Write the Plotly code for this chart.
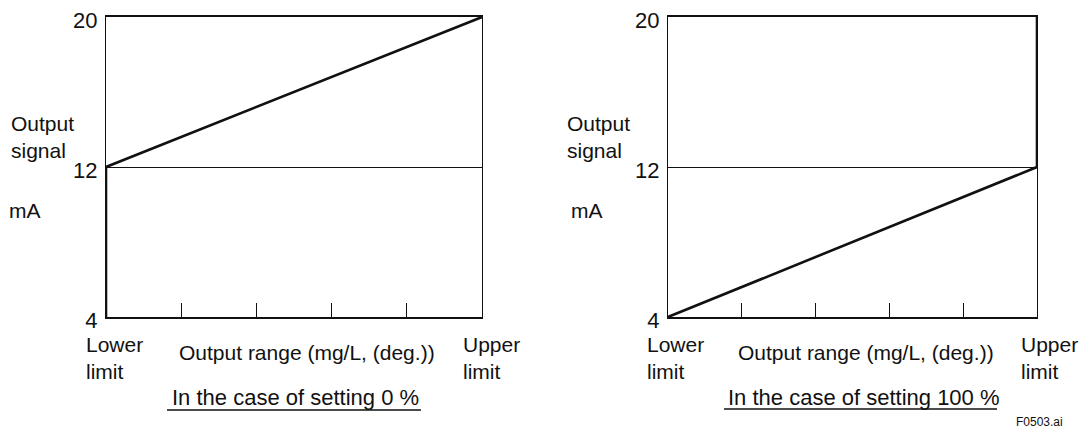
import plotly.graph_objects as go
from plotly.subplots import make_subplots

# 出力範囲（%）と出力信号（mA）
RANGE_PCT = [0, 100]
SIGNAL_RANGE = [4, 20]
SIGNAL_TICKS = [4, 12, 20]
SIGNAL_TICKTEXT = ["4", "12", "20"]
RANGE_TICKS = [20, 40, 60, 80]

# 設定 0 %：下限で 4→12 mA に跳び、上限で 20 mA
X_SET0 = [0, 0, 100]
Y_SET0 = [4, 12, 20]
# 設定 100 %：下限 4 mA から上限 12 mA、上限で 20 mA に跳ぶ
X_SET100 = [0, 100, 100]
Y_SET100 = [4, 12, 20]

CAPTIONS = ["In the case of setting 0 %", "In the case of setting 100 %"]
X_TITLE = "Output range (mg/L, (deg.))"
Y_TITLE = "Output<br>signal"
Y_UNIT = "mA"
LOWER = "Lower<br>limit"
UPPER = "Upper<br>limit"
FIG_ID = "F0503.ai"

FONT = "Liberation Sans, Arial, sans-serif"
INK = "#111111"

# ページ本体の余白 8px を差し引いた図の大きさ
OFF = 8
W, H = 1090 - OFF, 428 - OFF


def px_x(x):
    return (x - OFF) / W


def px_y(y):
    return 1 - (y - OFF) / H


fig = make_subplots(rows=1, cols=2)
fig.add_trace(go.Scatter(x=X_SET0, y=Y_SET0, mode="lines",
                         line=dict(color=INK, width=2.6)), row=1, col=1)
fig.add_trace(go.Scatter(x=X_SET100, y=Y_SET100, mode="lines",
                         line=dict(color=INK, width=2.6)), row=1, col=2)

fig.update_xaxes(range=RANGE_PCT, tickvals=RANGE_TICKS, ticks="inside",
                 ticklen=14, tickwidth=1, tickcolor=INK, showticklabels=False,
                 showgrid=False, zeroline=False, showline=True, mirror=True,
                 linecolor=INK, linewidth=1.5, automargin=False)
# 上端の「20」が図の縁で切れないよう、目盛ラベルを少し下げる
fig.update_yaxes(range=SIGNAL_RANGE, tickvals=SIGNAL_TICKS, ticktext=SIGNAL_TICKTEXT,
                 ticks="", showgrid=True, gridcolor=INK, gridwidth=1,
                 zeroline=False, showline=True, mirror=True, linecolor=INK,
                 linewidth=1, automargin=False, ticklabeloverflow="allow",
                 ticklabelstandoff=3, ticklabelshift=3,
                 tickfont=dict(size=22, color=INK, family=FONT))

top, bottom = px_y(17), px_y(317)
fig.update_layout(
    xaxis=dict(domain=[px_x(106), px_x(482)]),
    xaxis2=dict(domain=[px_x(668), px_x(1037)]),
    yaxis=dict(domain=[bottom, top]),
    yaxis2=dict(domain=[bottom, top]),
)

# パネルごとの文字位置（参照画像のピクセル）
panels = [
    dict(xr="x", ytitle=9, unit=7, lower=-22, upper=-21, xtitle=307, cap=295,
         line=(167, 421, 410)),
    dict(xr="x2", ytitle=565, unit=569, lower=-23, upper=-18, xtitle=866, cap=864,
         line=(724, 997, 409)),
]

ann = []
shapes = []
for i, p in enumerate(panels):
    common = dict(showarrow=False, font=dict(size=21, color=INK, family=FONT))
    # 縦軸タイトル
    ann.append(dict(text=Y_TITLE, xref="paper", yref="paper", x=px_x(p["ytitle"]),
                    y=px_y(137), xanchor="left", yanchor="middle", align="left", **common))
    ann.append(dict(text=Y_UNIT, xref="paper", yref="paper", x=px_x(p["unit"]),
                    y=px_y(210), xanchor="left", yanchor="middle", align="left", **common))
    # 下限・上限
    ann.append(dict(text=LOWER, xref=p["xr"], yref="paper", x=RANGE_PCT[0],
                    xshift=p["lower"], y=px_y(358), xanchor="left", yanchor="middle",
                    align="left", **common))
    ann.append(dict(text=UPPER, xref=p["xr"], yref="paper", x=RANGE_PCT[1],
                    xshift=p["upper"], y=px_y(358), xanchor="left", yanchor="middle",
                    align="left", **common))
    # 横軸タイトル
    ann.append(dict(text=X_TITLE, xref="paper", yref="paper", x=px_x(p["xtitle"]),
                    y=px_y(352), xanchor="center", yanchor="middle", **common))
    # キャプション（下線付き）
    ann.append(dict(text=CAPTIONS[i], xref="paper", yref="paper", x=px_x(p["cap"]),
                    y=px_y(397), xanchor="center", yanchor="middle",
                    showarrow=False, font=dict(size=22, color=INK, family=FONT)))
    x_a, x_b, y_u = p["line"]
    shapes.append(dict(type="line", xref="paper", yref="paper",
                       x0=px_x(x_a), x1=px_x(x_b), y0=px_y(y_u), y1=px_y(y_u),
                       line=dict(color=INK, width=1.5)))

ann.append(dict(text=FIG_ID, xref="paper", yref="paper", x=px_x(1014), y=px_y(422),
                xanchor="left", yanchor="middle", showarrow=False,
                font=dict(size=12, color=INK, family=FONT)))

fig.update_layout(
    width=W, height=H, margin=dict(l=0, r=0, t=0, b=0),
    paper_bgcolor="white", plot_bgcolor="white", showlegend=False,
    font=dict(family=FONT, color=INK),
    annotations=ann, shapes=shapes,
)

fig.write_html("out.html")
